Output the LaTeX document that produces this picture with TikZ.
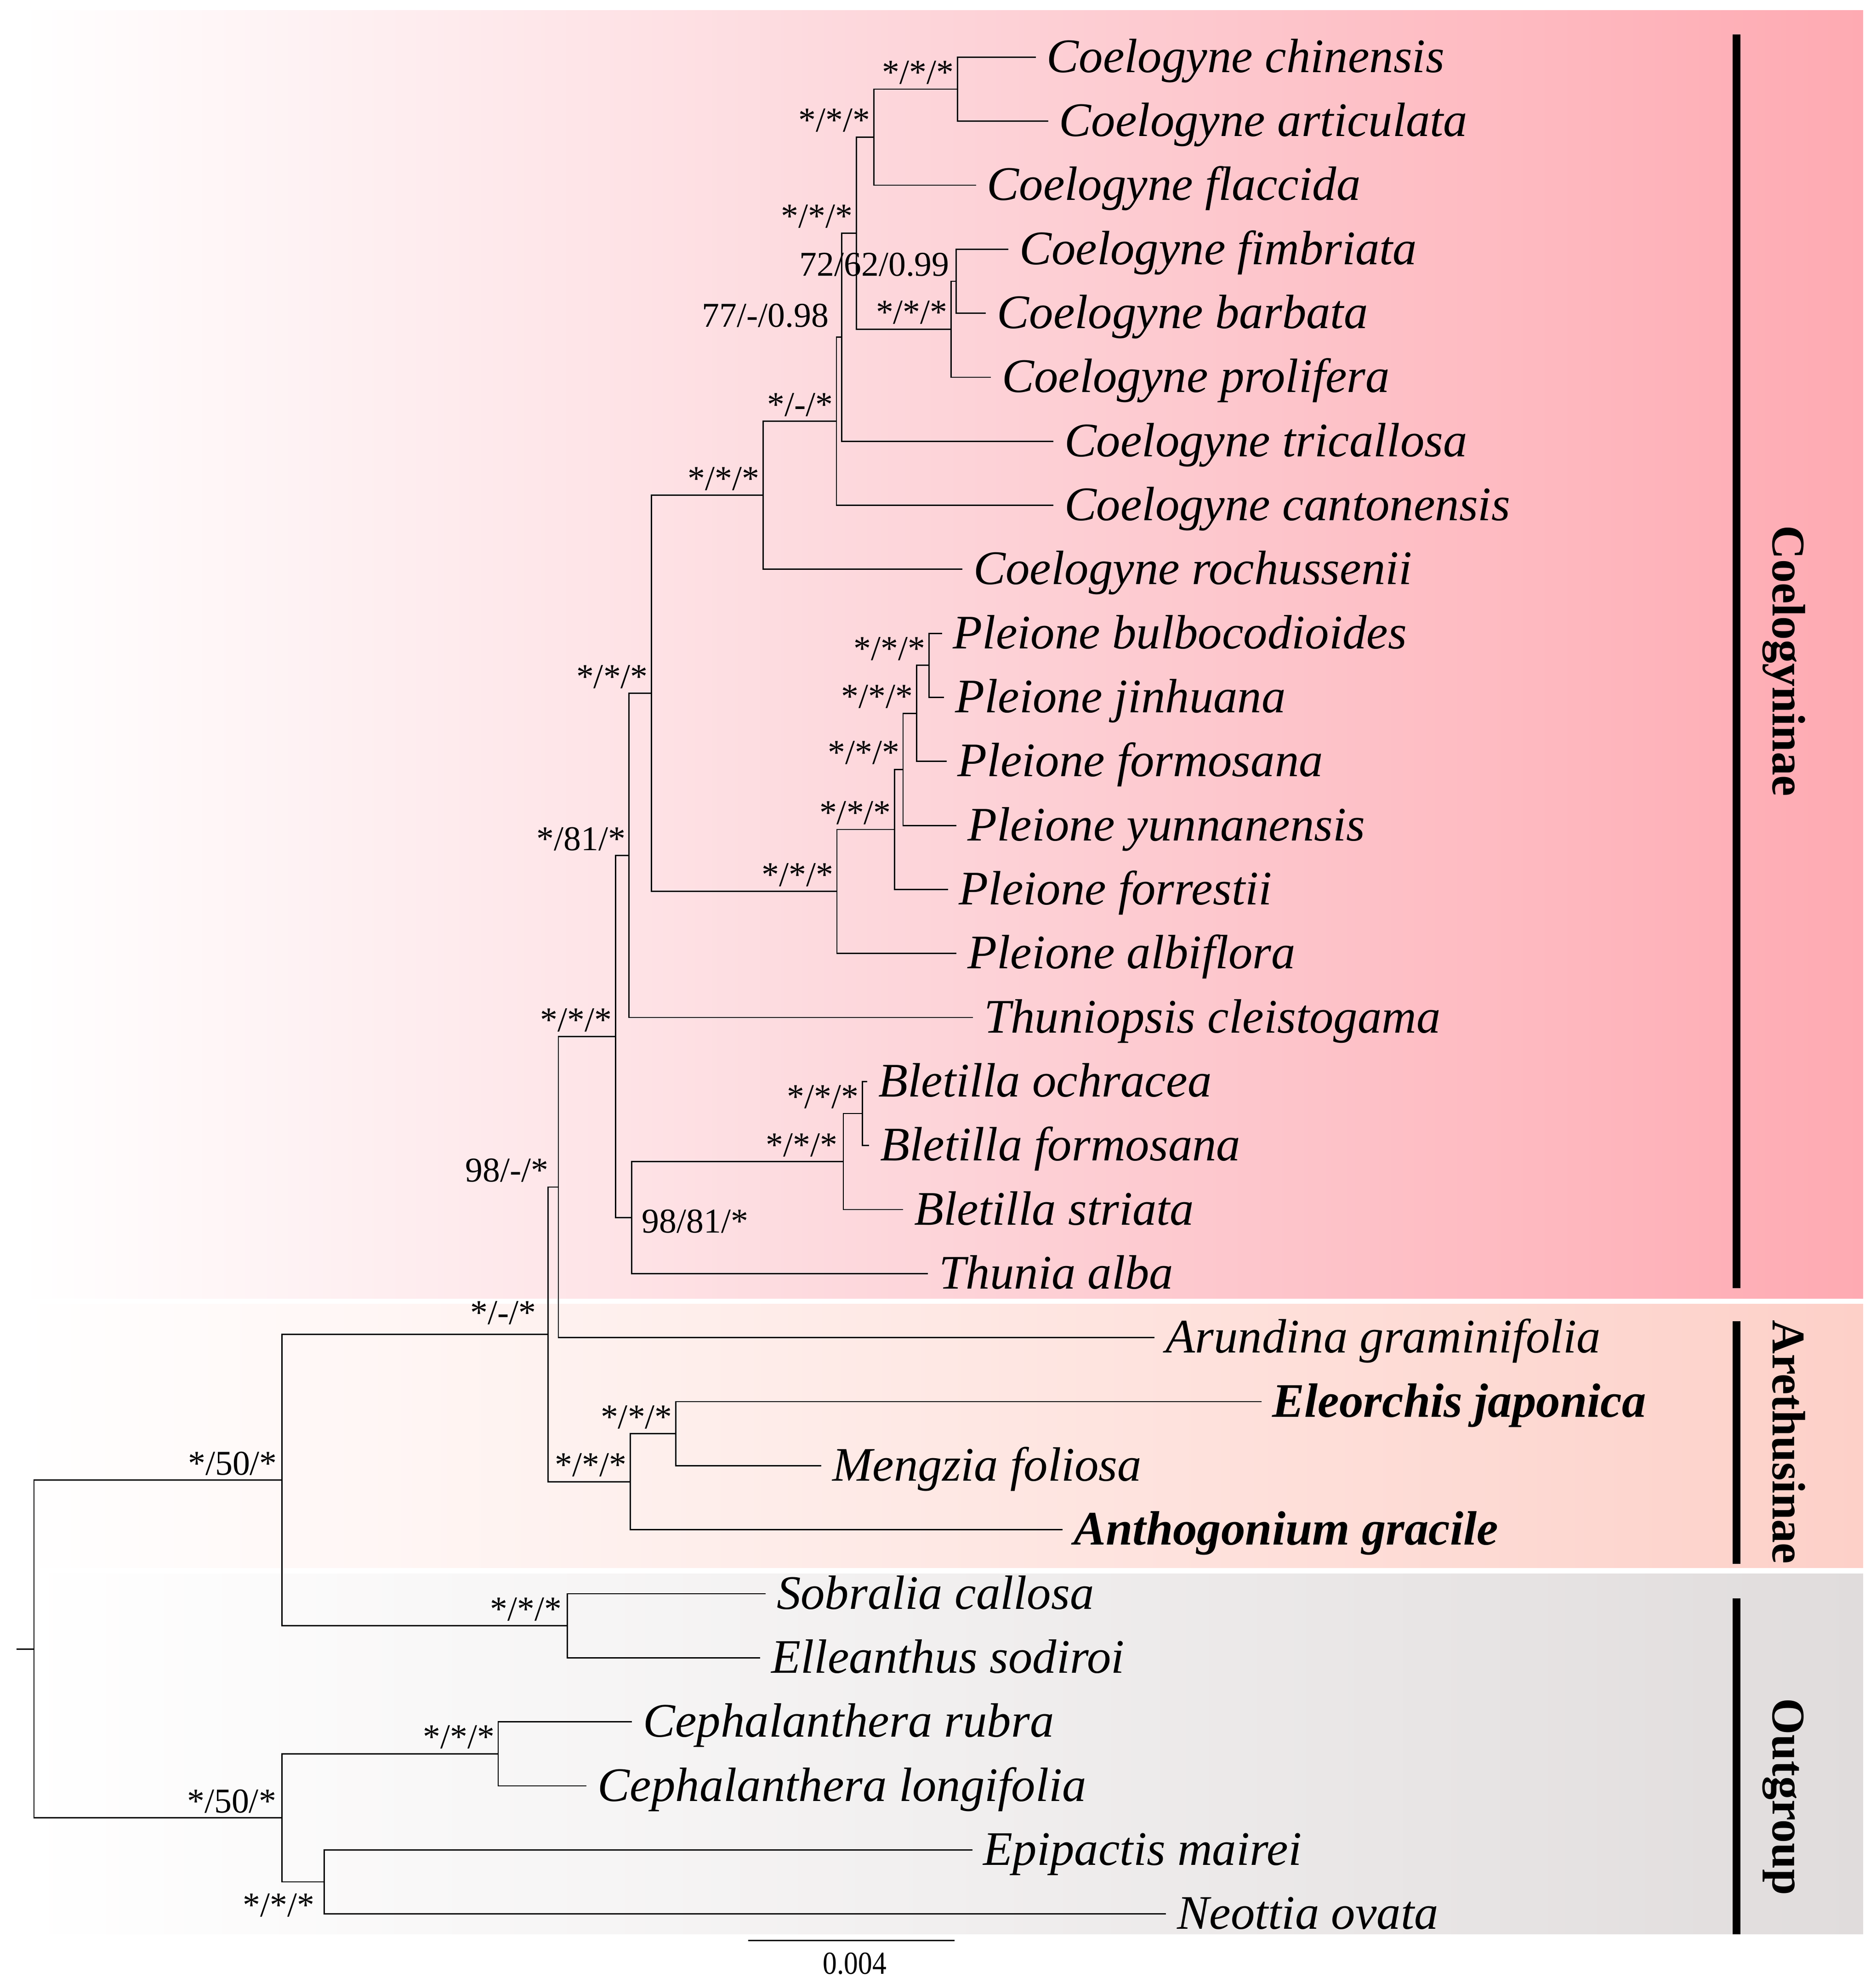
\documentclass[tikz,border=0pt]{standalone}
\usepackage{fontspec}
\setmainfont{Liberation Serif}
\usetikzlibrary{calc}

\definecolor{coelopink}{RGB}{254,170,178}
\definecolor{coelomid}{RGB}{253,212,217}
\definecolor{arethpink}{RGB}{253,208,200}
\definecolor{arethmid}{RGB}{254,232,228}
\definecolor{outgrey}{RGB}{224,220,220}
\definecolor{outmid}{RGB}{241,239,239}

\begin{document}
\begin{tikzpicture}[
    x=0.01cm, y=-0.01cm,
    branch/.style={line width=0.28pt, black},
    taxon/.style={anchor=base west, inner sep=0pt, xshift=2.3pt, yshift=-3.4pt, font=\fontsize{10.8}{13}\selectfont\itshape},
    taxonbold/.style={taxon, font=\fontsize{10.8}{13}\selectfont\bfseries\itshape},
    supp/.style={anchor=south east, inner xsep=0.6pt, inner ysep=0.9pt, font=\fontsize{7.8}{9}\selectfont},
    clade/.style={rotate=-90, anchor=base, inner sep=0pt, font=\fontsize{10.5}{12}\selectfont\bfseries},
    cladebar/.style={line width=1.8pt, black}
]
\useasboundingbox (0,0) rectangle (1478.1,1562.8);

% Background bands
\shade[left color=white, right color=coelopink, middle color=coelomid] (15.7,8.3) rectangle (1468.2,1023.4);
\shade[left color=white, right color=arethpink, middle color=arethmid] (15.7,1027.5) rectangle (1468.2,1235.6);
\shade[left color=white, right color=outgrey, middle color=outmid] (15.7,1240.1) rectangle (1468.2,1524.3);

% Tips (end of terminal branches)
\coordinate (t0) at (816.2,45.00);
\coordinate (t1) at (826.0,95.46);
\coordinate (t2) at (769.1,145.92);
\coordinate (t3) at (794.6,196.38);
\coordinate (t4) at (777.0,246.84);
\coordinate (t5) at (780.9,297.30);
\coordinate (t6) at (830.0,347.76);
\coordinate (t7) at (830.0,398.22);
\coordinate (t8) at (758.5,448.68);
\coordinate (t9) at (742.3,499.14);
\coordinate (t10) at (743.9,549.60);
\coordinate (t11) at (745.9,600.06);
\coordinate (t12) at (753.7,650.52);
\coordinate (t13) at (747.0,700.98);
\coordinate (t14) at (753.7,751.44);
\coordinate (t15) at (766.7,801.90);
\coordinate (t16) at (683.4,852.36);
\coordinate (t17) at (685.0,902.82);
\coordinate (t18) at (711.7,953.28);
\coordinate (t19) at (731.3,1003.74);
\coordinate (t20) at (909.8,1054.20);
\coordinate (t21) at (994.0,1104.66);
\coordinate (t22) at (647.2,1155.12);
\coordinate (t23) at (837.5,1205.58);
\coordinate (t24) at (603.3,1256.04);
\coordinate (t25) at (599.2,1306.50);
\coordinate (t26) at (498.0,1356.96);
\coordinate (t27) at (462.3,1407.42);
\coordinate (t28) at (766.2,1457.88);
\coordinate (t29) at (919.0,1508.34);

% Internal nodes
\coordinate (cA) at (754.5,70.23);
\coordinate (cB) at (688.6,108.08);
\coordinate (cC) at (753.4,221.61);
\coordinate (cD) at (749.5,259.46);
\coordinate (cE) at (674.8,183.77);
\coordinate (cF) at (663.2,265.76);
\coordinate (cG) at (659.2,331.99);
\coordinate (cH) at (601.3,390.34);
\coordinate (pA) at (732.1,524.37);
\coordinate (pB) at (722.3,562.22);
\coordinate (pC) at (711.7,606.37);
\coordinate (pD) at (705.0,653.68);
\coordinate (pE) at (659.5,702.56);
\coordinate (nB1) at (513.4,546.45);
\coordinate (nB2) at (495.7,674.17);
\coordinate (bA) at (679.5,877.59);
\coordinate (bB) at (664.6,915.44);
\coordinate (bC) at (497.7,959.59);
\coordinate (nB3) at (485.1,816.88);
\coordinate (nC) at (440.0,935.54);
\coordinate (aF) at (532.6,1129.89);
\coordinate (aE) at (496.6,1167.74);
\coordinate (nD) at (431.9,1051.64);
\coordinate (sA) at (447.2,1281.27);
\coordinate (nA) at (222.2,1166.46);
\coordinate (oG) at (392.6,1382.19);
\coordinate (oH) at (255.5,1483.11);
\coordinate (nO) at (222.2,1432.65);
\coordinate (root) at (26.8,1299.55);
\coordinate (stub) at (12.9,1299.55);

% Coelogyne clade
\draw[branch] (t0) -| (cA) |- (t1);
\draw[branch] (cA) -| (cB) |- (t2);
\draw[branch] (t3) -| (cC) |- (t4);
\draw[branch] (cC) -| (cD) |- (t5);
\draw[branch] (cB) -| (cE) |- (cD);
\draw[branch] (cE) -| (cF) |- (t6);
\draw[branch] (cF) -| (cG) |- (t7);
\draw[branch] (cG) -| (cH) |- (t8);

% Pleione clade
\draw[branch] (t9) -| (pA) |- (t10);
\draw[branch] (pA) -| (pB) |- (t11);
\draw[branch] (pB) -| (pC) |- (t12);
\draw[branch] (pC) -| (pD) |- (t13);
\draw[branch] (pD) -| (pE) |- (t14);
\draw[branch] (cH) -| (nB1) |- (pE);
\draw[branch] (nB1) -| (nB2) |- (t15);

% Bletilla + Thunia
\draw[branch] (t16) -| (bA) |- (t17);
\draw[branch] (bA) -| (bB) |- (t18);
\draw[branch] (bB) -| (bC) |- (t19);
\draw[branch] (nB2) -| (nB3) |- (bC);
\draw[branch] (nB3) -| (nC) |- (t20);

% Arethusinae
\draw[branch] (t21) -| (aF) |- (t22);
\draw[branch] (aF) -| (aE) |- (t23);
\draw[branch] (nC) -| (nD) |- (aE);

% Outgroup and root
\draw[branch] (t24) -| (sA) |- (t25);
\draw[branch] (nD) -| (nA) |- (sA);
\draw[branch] (t26) -| (oG) |- (t27);
\draw[branch] (t28) -| (oH) |- (t29);
\draw[branch] (oG) -| (nO) |- (oH);
\draw[branch] (nA) -| (root) |- (nO);
\draw[branch] (stub) -- (root);

% Taxon names
\node[taxon] (n0) at (t0) {Coelogyne chinensis};
\node[taxon] (n1) at (t1) {Coelogyne articulata};
\node[taxon] (n2) at (t2) {Coelogyne flaccida};
\node[taxon] (n3) at (t3) {Coelogyne fimbriata};
\node[taxon] (n4) at (t4) {Coelogyne barbata};
\node[taxon] (n5) at (t5) {Coelogyne prolifera};
\node[taxon] (n6) at (t6) {Coelogyne tricallosa};
\node[taxon] (n7) at (t7) {Coelogyne cantonensis};
\node[taxon] (n8) at (t8) {Coelogyne rochussenii};
\node[taxon] (n9) at (t9) {Pleione bulbocodioides};
\node[taxon] (n10) at (t10) {Pleione jinhuana};
\node[taxon] (n11) at (t11) {Pleione formosana};
\node[taxon] (n12) at (t12) {Pleione yunnanensis};
\node[taxon] (n13) at (t13) {Pleione forrestii};
\node[taxon] (n14) at (t14) {Pleione albiflora};
\node[taxon] (n15) at (t15) {Thuniopsis cleistogama};
\node[taxon] (n16) at (t16) {Bletilla ochracea};
\node[taxon] (n17) at (t17) {Bletilla formosana};
\node[taxon] (n18) at (t18) {Bletilla striata};
\node[taxon] (n19) at (t19) {Thunia alba};
\node[taxon] (n20) at (t20) {Arundina graminifolia};
\node[taxonbold] (n21) at (t21) {Eleorchis japonica};
\node[taxon] (n22) at (t22) {Mengzia foliosa};
\node[taxonbold] (n23) at (t23) {Anthogonium gracile};
\node[taxon] (n24) at (t24) {Sobralia callosa};
\node[taxon] (n25) at (t25) {Elleanthus sodiroi};
\node[taxon] (n26) at (t26) {Cephalanthera rubra};
\node[taxon] (n27) at (t27) {Cephalanthera longifolia};
\node[taxon] (n28) at (t28) {Epipactis mairei};
\node[taxon] (n29) at (t29) {Neottia ovata};

% Support values
\node[supp] (lcA) at (cA) {*/*/*};
\node[supp] (lcB) at (cB) {*/*/*};
\node[supp, xshift=-0.7pt] (lcC) at (cC) {72/62/0.99};
\node[supp] (lcD) at (cD) {*/*/*};
\node[supp] (lcE) at (cE) {*/*/*};
\node[supp, xshift=-2.1pt, yshift=1.1pt] (lcF) at (cF) {77/-/0.98};
\node[supp] (lcG) at (cG) {*/-/*};
\node[supp] (lcH) at (cH) {*/*/*};
\node[supp] (lpA) at (pA) {*/*/*};
\node[supp] (lpB) at (pB) {*/*/*};
\node[supp] (lpC) at (pC) {*/*/*};
\node[supp] (lpD) at (pD) {*/*/*};
\node[supp] (lpE) at (pE) {*/*/*};
\node[supp] (lnB1) at (nB1) {*/*/*};
\node[supp] (lnB2) at (nB2) {*/81/*};
\node[supp] (lbA) at (bA) {*/*/*};
\node[supp, xshift=-0.5pt] (lbB) at (bB) {*/*/*};
\node[anchor=base west, inner sep=0pt, xshift=2.1pt, yshift=-3.4pt, font=\fontsize{7.8}{9}\selectfont] (lbC) at (bC) {98/81/*};
\node[supp] (lnB3) at (nB3) {*/*/*};
\node[supp, xshift=-1.4pt] (lnC) at (nC) {98/-/*};
\node[supp] (laF) at (aF) {*/*/*};
\node[supp] (laE) at (aE) {*/*/*};
\node[supp, xshift=-1.9pt, yshift=1.1pt] (lnD) at (nD) {*/-/*};
\node[supp, xshift=-0.5pt] (lsA) at (sA) {*/*/*};
\node[supp, xshift=-0.3pt] (lnA) at (nA) {*/50/*};
\node[supp] (loG) at (oG) {*/*/*};
\node[supp, anchor=north east, xshift=-1.4pt, yshift=-1.5pt] (loH) at (oH) {*/*/*};
\node[supp, xshift=-0.5pt] (lnO) at (nO) {*/50/*};

% Clade bars and names
\draw[cladebar] (1368.5,27.0) -- (1368.5,1015.2);
\draw[cladebar] (1368.5,1041.3) -- (1368.5,1232.3);
\draw[cladebar] (1368.5,1259.5) -- (1368.5,1524.3);
\node[clade] (coelo) at (1397,520.8) {Coelogyninae};
\node[clade] (areth) at (1397,1136.4) {Arethusinae};
\node[clade] (outg) at (1397,1416.0) {Outgroup};

% Scale bar
\coordinate (sb1) at (589.5,1529.3);
\coordinate (sb2) at (752.3,1529.3);
\draw[branch] (sb1) -- (sb2);
\node[font=\fontsize{7.2}{9}\selectfont, inner sep=0pt] (sblabel) at (673.6,1547.4) {\scalebox{0.88}[1]{0.004}};

\end{tikzpicture}
\end{document}
